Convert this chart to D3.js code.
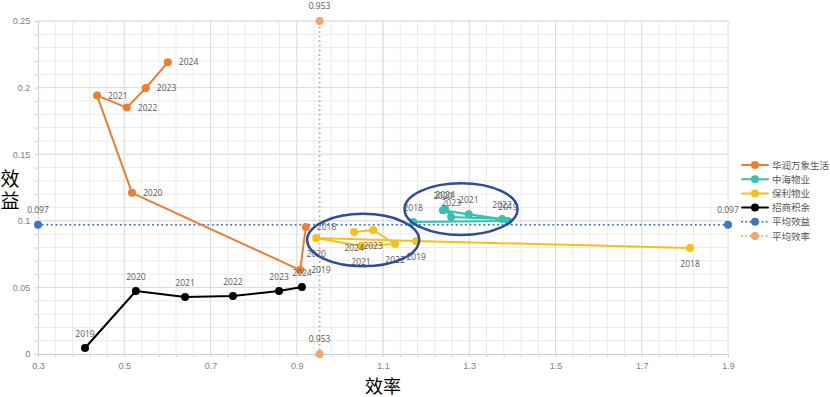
<!DOCTYPE html>
<html>
<head>
<meta charset="utf-8">
<script src="https://cdn.jsdelivr.net/npm/d3@7"></script>
<style>
  body { margin: 0; background: #fff; }
  svg { display: block; font-family: "Open Sans", "Noto Sans CJK SC", sans-serif; }
</style>
</head>
<body>
<svg id="chart" width="830" height="397"></svg>
<script>
// values (x = 效率, y = 效益)
const years = [2018, 2019, 2020, 2021, 2022, 2023, 2024];
const crEff = [0.921, 0.908, 0.518, 0.437, 0.506, 0.550, 0.601];
const crBen = [0.0953, 0.063, 0.121, 0.194, 0.185, 0.1997, 0.219];
const coEff = [1.170, 1.390, 1.239, 1.299, 1.376, 1.258, 1.244];
const coBen = [0.0991, 0.0998, 0.108, 0.105, 0.1014, 0.1029, 0.1089];
const plEff = [1.812, 1.177, 0.945, 1.049, 1.128, 1.077, 1.033];
const plBen = [0.0796, 0.0848, 0.0871, 0.0811, 0.0826, 0.0931, 0.0916];
const cmYears = [2019, 2020, 2021, 2022, 2023, 2024];
const cmEff = [0.409, 0.527, 0.641, 0.752, 0.859, 0.912];
const cmBen = [0.0045, 0.0473, 0.0428, 0.0435, 0.0473, 0.0503];
const avgBen = 0.097;
const avgEff = 0.953;
const seriesNames = ['华润万象生活', '中海物业', '保利物业', '招商积余', '平均效益', '平均效率'];
const xTicks = [0.3, 0.5, 0.7, 0.9, 1.1, 1.3, 1.5, 1.7, 1.9];
const yTicks = [0, 0.05, 0.1, 0.15, 0.2, 0.25];

const svg = d3.select('#chart');
const x = d3.scaleLinear().domain([0.3, 1.9]).range([38, 728]);
const y = d3.scaleLinear().domain([0, 0.25]).range([354, 21]);

const colors = ['#ED7D31', '#33C3AE', '#F7BF1A', '#000000', '#4472C4', '#F4A46C'];

// grid
const grid = svg.append('g');
grid.selectAll('line.mx').data(d3.range(0.34, 1.9, 0.04)).enter().append('line')
    .attr('x1', d => x(d)).attr('x2', d => x(d)).attr('y1', y(0)).attr('y2', y(0.25))
    .attr('stroke', '#ebebeb').attr('stroke-width', 1);
grid.selectAll('line.my').data(d3.range(0.01, 0.251, 0.01)).enter().append('line')
    .attr('y1', d => y(d)).attr('y2', d => y(d)).attr('x1', x(0.3)).attr('x2', x(1.9))
    .attr('stroke', '#ebebeb').attr('stroke-width', 1);
grid.selectAll('line.gx').data(xTicks.slice(1)).enter().append('line')
    .attr('x1', d => x(d)).attr('x2', d => x(d)).attr('y1', y(0)).attr('y2', y(0.25))
    .attr('stroke', '#dcdcdc');
grid.selectAll('line.gy').data(yTicks.slice(1)).enter().append('line')
    .attr('y1', d => y(d)).attr('y2', d => y(d)).attr('x1', x(0.3)).attr('x2', x(1.9))
    .attr('stroke', '#dcdcdc');

// axes
const xAxis = svg.append('g').attr('transform', 'translate(0,' + y(0) + ')')
    .call(d3.axisBottom(x).tickValues(d3.range(0.3, 1.91, 0.04)).tickSize(3)
      .tickFormat(d => xTicks.some(t => Math.abs(t - d) < 1e-6) ? d3.format('.1f')(d) : ''));
const yAxis = svg.append('g').attr('transform', 'translate(' + x(0.3) + ',0)')
    .call(d3.axisLeft(y).tickValues(d3.range(0, 0.2501, 0.01)).tickSize(3)
      .tickFormat(d => yTicks.some(t => Math.abs(t - d) < 1e-6) ? d3.format('~g')(d) : ''));
[xAxis, yAxis].forEach(a => {
  a.select('.domain').attr('stroke', '#d0d0d0');
  a.selectAll('line').attr('stroke', '#d0d0d0');
  a.selectAll('text').attr('fill', '#7f7f7f').style('font-size', '9px');
});
xAxis.selectAll('text').attr('dy', '1.05em');
yAxis.selectAll('text').attr('dx', '-0.2em');

// average lines
const avg = svg.append('g');
avg.append('line').attr('x1', x(0.3)).attr('x2', x(1.9)).attr('y1', y(avgBen)).attr('y2', y(avgBen))
    .attr('stroke', colors[4]).attr('stroke-width', 2).attr('stroke-dasharray', '0.1,4.5')
    .attr('stroke-linecap', 'round');
avg.append('line').attr('x1', x(avgEff)).attr('x2', x(avgEff)).attr('y1', y(0)).attr('y2', y(0.25))
    .attr('stroke', colors[5]).attr('stroke-width', 2).attr('stroke-dasharray', '0.1,4.5')
    .attr('stroke-linecap', 'round');
const avgPts = [[0.3, avgBen, 4, avgBen], [1.9, avgBen, 4, avgBen],
                [avgEff, 0, 5, avgEff], [avgEff, 0.25, 5, avgEff]];
avg.selectAll('circle').data(avgPts).enter().append('circle')
    .attr('cx', d => x(d[0])).attr('cy', d => y(d[1])).attr('r', 4).attr('fill', d => colors[d[2]]);
avg.selectAll('text').data(avgPts).enter().append('text')
    .attr('x', d => x(d[0])).attr('y', d => y(d[1]) - 12).attr('text-anchor', 'middle')
    .attr('fill', '#595959').style('font-size', '8.5px').text(d => d3.format('.3f')(d[3]));

// series
const series = [
  {yrs: years, xs: crEff, ys: crBen, c: colors[0], lab: 'right'},
  {yrs: years, xs: coEff, ys: coBen, c: colors[1], lab: 'above'},
  {yrs: years, xs: plEff, ys: plBen, c: colors[2], lab: 'below'},
  {yrs: cmYears, xs: cmEff, ys: cmBen, c: colors[3], lab: 'above'}
];
const line = d3.line().x(d => x(d[0])).y(d => y(d[1]));
series.forEach(s => {
  const pts = s.xs.map((v, i) => [v, s.ys[i], s.yrs[i]]);
  const g = svg.append('g');
  g.append('path').attr('d', line(pts)).attr('fill', 'none')
      .attr('stroke', s.c).attr('stroke-width', 2).attr('stroke-linejoin', 'round');
  g.selectAll('circle').data(pts).enter().append('circle')
      .attr('cx', d => x(d[0])).attr('cy', d => y(d[1])).attr('r', 4).attr('fill', s.c);
  g.selectAll('text').data(pts).enter().append('text')
      .attr('x', d => x(d[0]) + (s.lab === 'right' ? 11 : 0))
      .attr('y', d => y(d[1]) + (s.lab === 'right' ? 3 : s.lab === 'below' ? 19 : -11))
      .attr('text-anchor', s.lab === 'right' ? 'start' : 'middle')
      .attr('fill', '#595959').style('font-size', '8.5px').text(d => d[2]);
});

// hand drawn ellipses around the two clusters
const rings = [[1.054, 0.0855, 0.130, 0.0197], [1.281, 0.1087, 0.131, 0.0194]];
svg.selectAll('ellipse').data(rings).enter().append('ellipse')
    .attr('cx', d => x(d[0])).attr('cy', d => y(d[1]))
    .attr('rx', d => x(d[0] + d[2]) - x(d[0])).attr('ry', d => y(d[1]) - y(d[1] + d[3]))
    .attr('fill', 'none').attr('stroke', '#2E4C9C').attr('stroke-width', 2.5);

// axis titles
svg.append('text').attr('x', 10).attr('y', 186).attr('text-anchor', 'middle')
    .style('font-family', '"Noto Sans CJK SC"').style('font-size', '19px').text('效');
svg.append('text').attr('x', 10).attr('y', 208).attr('text-anchor', 'middle')
    .style('font-family', '"Noto Sans CJK SC"').style('font-size', '19px').text('益');
svg.append('text').attr('x', 383).attr('y', 393).attr('text-anchor', 'middle')
    .style('font-family', '"Noto Sans CJK SC"').style('font-size', '18px').text('效率');

// legend
const leg = svg.append('g').selectAll('g').data(seriesNames).enter().append('g')
    .attr('transform', (d, i) => 'translate(742,' + (165 + i * 14.2) + ')');
leg.append('line').attr('x1', 0).attr('x2', 26).attr('stroke', (d, i) => colors[i])
    .attr('stroke-width', 2)
    .attr('stroke-dasharray', (d, i) => i > 3 ? '0.1,4' : null).attr('stroke-linecap', 'round');
leg.append('circle').attr('cx', 13).attr('r', 4).attr('fill', (d, i) => colors[i]);
leg.append('text').attr('x', 30).attr('y', 3.5).attr('fill', '#595959')
    .style('font-family', '"Noto Sans CJK SC"').style('font-size', '9.5px').text(d => d);
</script>
</body>
</html>
